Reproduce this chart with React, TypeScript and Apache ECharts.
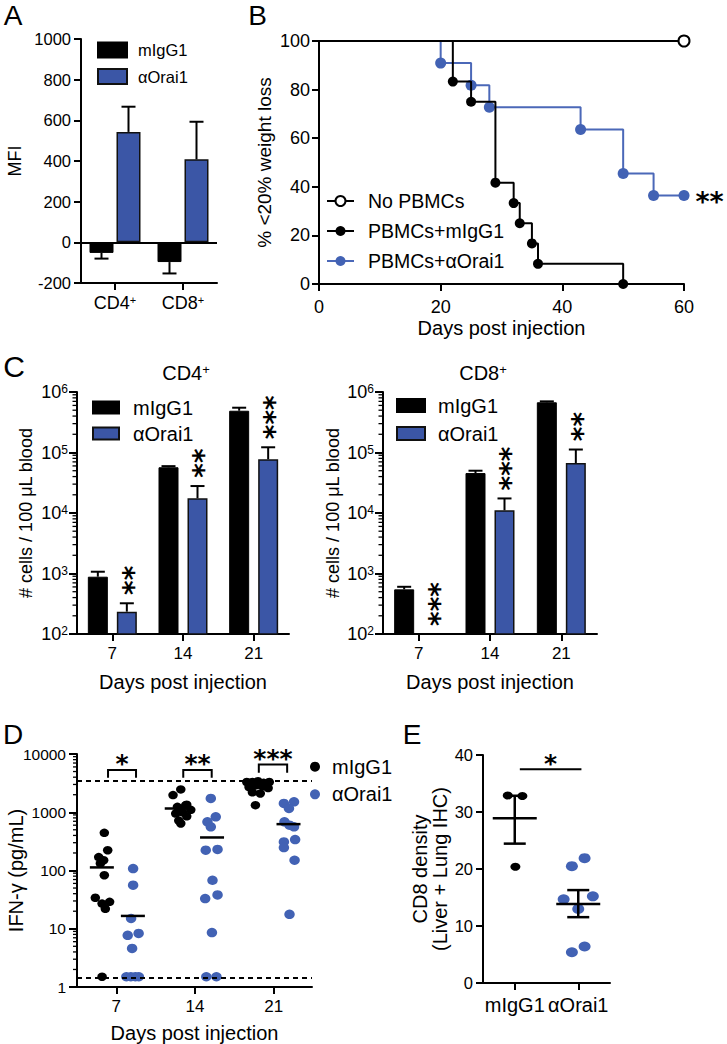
import React, { useEffect, useRef } from 'react';
import * as echarts from 'echarts';

const BLACK = '#000000';
const BLUE = '#3b56a6';
const BLUE_DOT = '#4262b4';
const BLUE_LINE = '#4b68b8';
const FONT = '"Liberation Sans", Arial, Helvetica, sans-serif';
const LETTER_FONT = '"Liberation Sans", Arial, sans-serif';
const STAR_FONT = '"DejaVu Sans", sans-serif';

// ---------- Panel A ----------
const aCategories = ['CD4', 'CD8'];
const aMIgG1 = [-52, -97];
const aMIgG1Err = [-80, -153];
const aOrai1 = [543, 408];
const aOrai1Err = [667, 593];

// ---------- Panel B (Kaplan-Meier, [day, %]) ----------
const bNoPBMCs = [[0, 100], [60, 100]];
const bMIgG1 = [[0, 100], [22, 83.3], [25, 75], [29, 41.7], [32, 33.3], [33, 25], [35, 16.7], [36, 8.3], [50, 0]];
const bOrai1 = [[0, 100], [20, 90.9], [25, 81.8], [28, 72.7], [43, 63.6], [50, 45.5], [55, 36.4], [60, 36.4]];

// ---------- Panel C ----------
const cDays = ['7', '14', '21'];
const cCD4MIgG1 = [885, 57000, 490000];
const cCD4MIgG1Err = [1070, 59500, 550000];
const cCD4Orai1 = [234, 17500, 77300];
const cCD4Orai1Err = [322, 27900, 122000];
const cCD4StarAnchor = [322, 27900, 122000];
const cCD4StarCount = [2, 2, 3];
const cCD8MIgG1 = [547, 45700, 676000];
const cCD8MIgG1Err = [603, 50000, 700000];
const cCD8Orai1 = [null, 11100, 67100];
const cCD8Orai1Err = [null, 17400, 112000];
const cCD8StarAnchor = [100, 17400, 112000];
const cCD8StarCount = [3, 3, 2];

// ---------- Panel D ([day position, pg/mL]) ----------
const dTickDays = [7, 14, 21];
const dMIgG1 = [
  [5.93, 443], [6.23, 223], [5.43, 170], [5.87, 150], [5.58, 132], [5.93, 83], [5.13, 34], [5.73, 27], [6.4, 29], [6.02, 22], [5.73, 1.5],
  [12.73, 2465], [12.04, 1970], [13.26, 1350], [13.17, 1325], [12.43, 1240], [13.62, 1100], [12.88, 1000], [12.28, 950], [13.26, 850], [12.55, 720], [12.73, 642],
  [18.6, 3300], [19.1, 3300], [19.6, 3400], [20.1, 3200], [20.6, 3300], [18.8, 2700], [19.4, 2900], [20.0, 2800], [20.5, 2600], [19.1, 2200], [19.8, 2100], [19.37, 1325],
];
const dOrai1 = [
  [8.49, 108], [8.49, 56], [8.31, 15], [8.01, 7.7], [8.98, 8.3], [8.4, 4.6], [7.89, 1.5], [8.29, 1.5], [8.69, 1.5], [9.0, 1.5],
  [15.4, 1725], [15.84, 834], [15.1, 684], [15.4, 561], [14.95, 223], [16.0, 230], [15.55, 68], [14.9, 33], [16.0, 38], [15.5, 8.6], [15.0, 1.5], [15.9, 1.5],
  [21.9, 1416], [22.8, 1510], [22.35, 1160], [21.95, 684], [22.4, 600], [22.8, 561], [21.9, 310], [22.9, 340], [21.9, 248], [22.85, 150], [22.4, 17.7],
];
const dMIgG1MeanX = [5.71, 12.37, 19.55];
const dMIgG1Mean = [113, 1160, 2670];
const dOrai1MeanX = [8.47, 15.51, 22.31];
const dOrai1Mean = [16.6, 369, 625];
const dLimits = [3420, 1.45];
const dBracketX1 = [6.26, 12.95, 19.67];
const dBracketX2 = [8.75, 15.48, 22.19];
const dBracketTop = [5290, 5290, 6620];
const dBracketLeg = [3900, 3900, 4750];
const dBracketStars = [1, 2, 3];

// ---------- Panel E ([group position, density]) ----------
const eCategories = ['mIgG1', 'αOrai1'];
const eMIgG1 = [[-0.11, 32.9], [0.12, 32.8], [0.01, 20.4]];
const eOrai1 = [[0.9, 20.5], [1.1, 21.9], [0.77, 14.7], [1.23, 15.2], [1.0, 13.0], [0.9, 5.4], [1.1, 6.4]];
const eMean = [28.9, 13.85];
const eSemLow = [24.45, 11.55];
const eSemHigh = [32.85, 16.3];
const eSigX1 = [0.08];
const eSigX2 = [1.05];
const eSigY = [37.5];
const eSigStars = [1];

function logMinorTicks(minExp: number, maxExp: number) {
  const out: number[] = [];
  for (let e = minExp; e < maxExp; e++) {
    for (let m = 2; m <= 9; m++) out.push(m * Math.pow(10, e));
  }
  return out;
}

const axisLine = { show: true, onZero: false, lineStyle: { color: BLACK, width: 2 } };
const tick = (len: number, extra: any = {}) => ({ show: true, length: len, inside: false, lineStyle: { color: BLACK, width: 2 }, ...extra });
const lab = (size: number, margin: number, extra: any = {}) => ({ show: true, color: BLACK, fontFamily: FONT, fontSize: size, margin, ...extra });
const nameStyle = (size: number, extra: any = {}) => ({ color: BLACK, fontFamily: FONT, fontSize: size, ...extra });
const noSplit = { show: false };

function textEl(x: number, y: number, text: string, size: number, family: string, weight: any = 'normal', rich: any = undefined) {
  const style: any = {
    text, x: 0, y: 0, fill: BLACK, fontSize: size, fontFamily: family, fontWeight: weight,
    align: 'center', verticalAlign: 'middle', textAlign: 'center', textVerticalAlign: 'middle',
  };
  if (rich) style.rich = rich;
  return { type: 'text', x, y, style, z: 100 };
}

function errRender(off: number, cap: number) {
  return (params: any, api: any) => {
    const c = api.value(0);
    const v = api.value(1);
    const e = api.value(2);
    const g = api.value(3);
    const p1 = api.coord([c, v]);
    const p2 = api.coord([c, e]);
    const x = p1[0] + (g === 0 ? -off : off);
    const st = { stroke: BLACK, lineWidth: 2 };
    return {
      type: 'group',
      children: [
        { type: 'line', shape: { x1: x, y1: p1[1], x2: x, y2: p2[1] }, style: st },
        { type: 'line', shape: { x1: x - cap, y1: p2[1], x2: x + cap, y2: p2[1] }, style: st },
      ],
    };
  };
}

// vertical column of asterisks: one rotated text
function stackedStarsRender(off: number) {
  const size = 28;
  const pitch = size * 0.5;
  return (params: any, api: any) => {
    const c = api.value(0);
    const a = api.value(1);
    const n = api.value(2);
    const p = api.coord([c, a]);
    const x = p[0] + off + size * 0.23;
    const cy = p[1] - 9 - (n * pitch) / 2;
    return {
      type: 'text', x, y: cy, rotation: Math.PI / 2,
      style: { text: '*'.repeat(n), fill: BLACK, fontSize: size, fontFamily: STAR_FONT, fontWeight: 'bold', align: 'center', verticalAlign: 'middle', textAlign: 'center', textVerticalAlign: 'middle' },
    };
  };
}

function minorTickRender(len: number) {
  return (params: any, api: any) => {
    const p = api.coord([api.value(0), api.value(1)]);
    const x0 = params.coordSys.x;
    return { type: 'line', shape: { x1: x0 - len, y1: p[1], x2: x0, y2: p[1] }, style: { stroke: BLACK, lineWidth: 1.3 } };
  };
}

function bracketRender(starSize: number, starLift: number) {
  return (params: any, api: any) => {
    const x1 = api.value(0);
    const x2 = api.value(1);
    const yt = api.value(2);
    const yl = api.value(3);
    const n = api.value(4);
    const a = api.coord([x1, yl]);
    const b = api.coord([x1, yt]);
    const c = api.coord([x2, yt]);
    const d = api.coord([x2, yl]);
    return {
      type: 'group',
      children: [
        { type: 'polyline', shape: { points: [a, b, c, d] }, style: { stroke: BLACK, lineWidth: 2, fill: 'none' } },
        {
          type: 'text', x: (b[0] + c[0]) / 2, y: b[1] - starLift + starSize * 0.23,
          style: { text: '*'.repeat(n), fill: BLACK, fontSize: starSize, fontFamily: STAR_FONT, fontWeight: 'bold', align: 'center', verticalAlign: 'middle', textAlign: 'center', textVerticalAlign: 'middle' },
        },
      ],
    };
  };
}

function meanRender(half: number) {
  return (params: any, api: any) => {
    const p = api.coord([api.value(0), api.value(1)]);
    return { type: 'line', shape: { x1: p[0] - half, y1: p[1], x2: p[0] + half, y2: p[1] }, style: { stroke: BLACK, lineWidth: 2.5 } };
  };
}

function meanSemRender(half: number, cap: number) {
  return (params: any, api: any) => {
    const x = api.value(0);
    const pm = api.coord([x, api.value(1)]);
    const pl = api.coord([x, api.value(2)]);
    const ph = api.coord([x, api.value(3)]);
    const st = { stroke: BLACK, lineWidth: 2.5 };
    return {
      type: 'group',
      children: [
        { type: 'line', shape: { x1: pm[0] - half, y1: pm[1], x2: pm[0] + half, y2: pm[1] }, style: st },
        { type: 'line', shape: { x1: pl[0], y1: pl[1], x2: ph[0], y2: ph[1] }, style: st },
        { type: 'line', shape: { x1: pl[0] - cap, y1: pl[1], x2: pl[0] + cap, y2: pl[1] }, style: st },
        { type: 'line', shape: { x1: ph[0] - cap, y1: ph[1], x2: ph[0] + cap, y2: ph[1] }, style: st },
      ],
    };
  };
}

const supRich = (size: number) => ({ s: { fontSize: size, fontFamily: FONT, color: BLACK, verticalAlign: 'top' } });

function logAxis(grid: number, min: number, max: number, name: string, nameGap: number, nameSize: number, labelSize: number, margin: number, pow: boolean) {
  return {
    type: 'log', logBase: 10, gridIndex: grid, min, max,
    axisLine, axisTick: tick(8), splitLine: noSplit, minorTick: { show: false },
    axisLabel: lab(labelSize, margin, pow
      ? { formatter: (v: number) => '10{s|' + Math.round(Math.log10(v)) + '}', rich: supRich(12) }
      : { formatter: (v: number) => String(Math.round(v)) }),
    name, nameLocation: 'middle', nameGap, nameRotate: 90, nameMoveOverlap: false, nameTextStyle: nameStyle(nameSize),
  };
}

function buildOption(): any {
  const cMinor = logMinorTicks(2, 6);
  const dMinor = logMinorTicks(0, 4);

  const grids = [
    { left: 81, top: 39, width: 136, height: 244 },
    { left: 319, top: 41, width: 365, height: 243 },
    { left: 77, top: 392, width: 212, height: 242 },
    { left: 383, top: 392, width: 214, height: 242 },
    { left: 77, top: 754, width: 235, height: 233 },
    { left: 483, top: 755, width: 127, height: 228 },
  ].map((g) => ({ ...g, containLabel: false, outerBoundsMode: 'none' }));

  const cX = (grid: number) => ({
    type: 'category', gridIndex: grid, data: cDays,
    axisLine, axisTick: tick(7, { alignWithLabel: true }), splitLine: noSplit,
    axisLabel: lab(17, 11, { interval: 0 }),
    name: 'Days post injection', nameLocation: 'middle', nameGap: 38, nameMoveOverlap: false, nameTextStyle: nameStyle(20),
  });

  const xAxis = [
    {
      type: 'category', gridIndex: 0, data: aCategories,
      axisLine, axisTick: tick(7, { alignWithLabel: true, interval: 0 }), splitLine: noSplit,
      axisLabel: lab(18, 11, { interval: 0, hideOverlap: false, formatter: (v: string) => v + '{s|+}', rich: supRich(11) }),
    },
    {
      type: 'value', gridIndex: 1, min: 0, max: 60, interval: 20,
      axisLine, axisTick: tick(7), splitLine: noSplit, axisLabel: lab(18, 14),
      name: 'Days post injection', nameLocation: 'middle', nameGap: 34, nameMoveOverlap: false, nameTextStyle: nameStyle(20),
    },
    cX(2),
    cX(3),
    {
      type: 'value', gridIndex: 4, min: 3.5, max: 24.4,
      axisLine, axisTick: tick(7, { customValues: dTickDays }), splitLine: noSplit,
      axisLabel: lab(17, 11, { customValues: dTickDays }),
      name: 'Days post injection', nameLocation: 'middle', nameGap: 36, nameMoveOverlap: false, nameTextStyle: nameStyle(20),
    },
    {
      type: 'value', gridIndex: 5, min: -0.5, max: 1.5,
      axisLine, axisTick: tick(7, { customValues: [0, 1] }), splitLine: noSplit,
      axisLabel: lab(20, 12, { customValues: [0, 1], formatter: (v: number) => eCategories[Math.round(v)] }),
    },
  ];

  const yAxis = [
    {
      type: 'value', gridIndex: 0, min: -200, max: 1000, interval: 200,
      axisLine, axisTick: tick(7), splitLine: noSplit, axisLabel: lab(16.5, 10, { formatter: (v: number) => String(v) }),
      name: 'MFI', nameLocation: 'middle', nameGap: 57, nameRotate: 90, nameMoveOverlap: false, nameTextStyle: nameStyle(18),
    },
    {
      type: 'value', gridIndex: 1, min: 0, max: 100, interval: 20,
      axisLine, axisTick: tick(7), splitLine: noSplit, axisLabel: lab(18, 9),
      name: '% <20% weight loss', nameLocation: 'middle', nameGap: 45, nameRotate: 90, nameMoveOverlap: false, nameTextStyle: nameStyle(19),
    },
    logAxis(2, 100, 1000000, '# cells / 100 μL blood', 42, 18, 18, 9, true),
    logAxis(3, 100, 1000000, '# cells / 100 μL blood', 41, 18, 18, 9, true),
    logAxis(4, 1, 10000, 'IFN-γ (pg/mL)', 51, 20, 15.5, 11, false),
    {
      type: 'value', gridIndex: 5, min: 0, max: 40, interval: 10,
      axisLine, axisTick: tick(7), splitLine: noSplit, axisLabel: lab(16.5, 10),
      name: 'CD8 density\n(Liver + Lung IHC)', nameLocation: 'middle', nameGap: 33, nameRotate: 90, nameMoveOverlap: false,
      nameTextStyle: nameStyle(20, { lineHeight: 20 }),
    },
  ];

  const barBlack = { color: BLACK, borderColor: BLACK, borderWidth: 1 };
  const barBlue = { color: BLUE, borderColor: '#111111', borderWidth: 1.5 };

  const series: any[] = [];

  // ---- A ----
  series.push({
    name: 'mIgG1', type: 'bar', xAxisIndex: 0, yAxisIndex: 0, data: aMIgG1, barWidth: 24, barGap: '12.5%',
    itemStyle: barBlack,
    markLine: { silent: true, symbol: ['none', 'none'], label: { show: false }, lineStyle: { color: BLACK, width: 2, type: 'solid' }, data: [{ yAxis: 0 }] },
  });
  series.push({ name: 'αOrai1', type: 'bar', xAxisIndex: 0, yAxisIndex: 0, data: aOrai1, barWidth: 24, barGap: '12.5%', itemStyle: barBlue });
  series.push({
    name: 'A-err', type: 'custom', xAxisIndex: 0, yAxisIndex: 0, z: 5,
    renderItem: errRender(13.5, 7),
    data: [
      ...aMIgG1.map((v, i) => [i, v, aMIgG1Err[i], 0]),
      ...aOrai1.map((v, i) => [i, v, aOrai1Err[i], 1]),
    ],
  });

  // ---- B ----
  series.push({
    name: 'No PBMCs', type: 'line', xAxisIndex: 1, yAxisIndex: 1, z: 4,
    data: bNoPBMCs.map((p, i) => (i === 0 ? { value: p, symbol: 'none' } : { value: p })),
    symbol: 'circle', symbolSize: 11, showAllSymbol: true,
    itemStyle: { color: '#ffffff', borderColor: BLACK, borderWidth: 2 },
    lineStyle: { color: BLACK, width: 2 },
  });
  series.push({
    name: 'PBMCs+mIgG1', type: 'line', step: 'end', xAxisIndex: 1, yAxisIndex: 1, z: 3,
    data: bMIgG1.map((p, i) => (i === 0 ? { value: p, symbol: 'none' } : { value: p })),
    symbol: 'circle', symbolSize: 10, showAllSymbol: true,
    itemStyle: { color: BLACK },
    lineStyle: { color: BLACK, width: 2 },
  });
  series.push({
    name: 'PBMCs+αOrai1', type: 'line', step: 'end', xAxisIndex: 1, yAxisIndex: 1, z: 2,
    data: bOrai1.map((p, i) => {
      if (i === 0) return { value: p, symbol: 'none' };
      if (i === bOrai1.length - 1) {
        return {
          value: p,
          label: { show: true, position: 'right', distance: 6, formatter: '**', color: BLACK, fontSize: 27, fontFamily: STAR_FONT, fontWeight: 'bold', offset: [0, 6] },
        };
      }
      return { value: p };
    }),
    symbol: 'circle', symbolSize: 11, showAllSymbol: true,
    itemStyle: { color: BLUE_DOT },
    lineStyle: { color: BLUE_LINE, width: 2 },
  });

  // ---- C ----
  const cPanel = (xi: number, mig: any[], migErr: any[], ora: any[], oraErr: any[], starA: number[], starN: number[]) => {
    series.push({ name: 'mIgG1', type: 'bar', xAxisIndex: xi, yAxisIndex: xi, data: mig, barWidth: 20, barGap: '45%', itemStyle: barBlack, clip: true });
    series.push({ name: 'αOrai1', type: 'bar', xAxisIndex: xi, yAxisIndex: xi, data: ora.map((v) => (v == null ? '-' : v)), barWidth: 20, barGap: '45%', itemStyle: barBlue, clip: true });
    const errData: any[] = [];
    mig.forEach((v, i) => { if (v != null) errData.push([i, v, migErr[i], 0]); });
    ora.forEach((v, i) => { if (v != null) errData.push([i, v, oraErr[i], 1]); });
    series.push({ name: 'C-err-' + xi, type: 'custom', xAxisIndex: xi, yAxisIndex: xi, z: 5, renderItem: errRender(14.5, 7), data: errData });
    series.push({
      name: 'C-stars-' + xi, type: 'custom', xAxisIndex: xi, yAxisIndex: xi, z: 6,
      renderItem: stackedStarsRender(14.5), data: starA.map((a, i) => [i, a, starN[i]]),
    });
    series.push({
      name: 'C-minor-' + xi, type: 'custom', xAxisIndex: xi, yAxisIndex: xi, z: 6,
      renderItem: minorTickRender(4.5), data: cMinor.map((v) => [0, v]),
    });
  };
  cPanel(2, cCD4MIgG1, cCD4MIgG1Err, cCD4Orai1, cCD4Orai1Err, cCD4StarAnchor, cCD4StarCount);
  cPanel(3, cCD8MIgG1, cCD8MIgG1Err, cCD8Orai1, cCD8Orai1Err, cCD8StarAnchor, cCD8StarCount);

  // ---- D ----
  series.push({
    name: 'mIgG1', type: 'scatter', xAxisIndex: 4, yAxisIndex: 4, data: dMIgG1, symbol: 'circle', symbolSize: [9.5, 8.5],
    itemStyle: { color: BLACK, opacity: 1 }, z: 3,
    markLine: {
      silent: true, symbol: ['none', 'none'], label: { show: false },
      lineStyle: { color: BLACK, width: 2, type: [5, 4] },
      data: dLimits.map((v) => ({ yAxis: v })),
    },
  });
  series.push({
    name: 'αOrai1', type: 'scatter', xAxisIndex: 4, yAxisIndex: 4, data: dOrai1, symbol: 'circle', symbolSize: [10.5, 9.5],
    itemStyle: { color: BLUE_DOT, opacity: 1 }, z: 3,
  });
  series.push({
    name: 'D-mean', type: 'custom', xAxisIndex: 4, yAxisIndex: 4, z: 5, renderItem: meanRender(12),
    data: [...dMIgG1MeanX.map((x, i) => [x, dMIgG1Mean[i]]), ...dOrai1MeanX.map((x, i) => [x, dOrai1Mean[i]])],
  });
  series.push({
    name: 'D-brackets', type: 'custom', xAxisIndex: 4, yAxisIndex: 4, z: 5, renderItem: bracketRender(25, 12),
    encode: { x: 0, y: 2 },
    data: dBracketX1.map((x, i) => [x, dBracketX2[i], dBracketTop[i], dBracketLeg[i], dBracketStars[i]]),
  });
  series.push({
    name: 'D-minor', type: 'custom', xAxisIndex: 4, yAxisIndex: 4, z: 6,
    renderItem: minorTickRender(4), data: dMinor.map((v) => [7, v]),
  });

  // ---- E ----
  series.push({ name: 'mIgG1', type: 'scatter', xAxisIndex: 5, yAxisIndex: 5, data: eMIgG1, symbol: 'circle', symbolSize: [10, 8], itemStyle: { color: BLACK, opacity: 1 }, z: 3 });
  series.push({ name: 'αOrai1', type: 'scatter', xAxisIndex: 5, yAxisIndex: 5, data: eOrai1, symbol: 'circle', symbolSize: [12, 10], itemStyle: { color: BLUE_DOT, opacity: 1 }, z: 3 });
  series.push({
    name: 'E-mean', type: 'custom', xAxisIndex: 5, yAxisIndex: 5, z: 5, renderItem: meanSemRender(22, 11),
    data: eMean.map((m, i) => [i, m, eSemLow[i], eSemHigh[i]]),
  });
  series.push({
    name: 'E-sig', type: 'custom', xAxisIndex: 5, yAxisIndex: 5, z: 5, renderItem: bracketRender(25, 12),
    encode: { x: 0, y: 2 },
    data: eSigX1.map((x, i) => [x, eSigX2[i], eSigY[i], eSigY[i], eSigStars[i]]),
  });

  const legText = (size: number, padLeft: number) => ({ color: BLACK, fontFamily: FONT, fontSize: size, padding: [0, 0, 0, padLeft] });

  const legend = [
    {
      left: 97, top: 41.5, orient: 'vertical', padding: 0, itemWidth: 29, itemHeight: 15, itemGap: 9.5, icon: 'rect',
      data: ['mIgG1', 'αOrai1'], textStyle: legText(16.5, 6), selectedMode: false,
    },
    {
      left: 326, top: 191, orient: 'vertical', padding: 0, itemWidth: 27, itemHeight: 12.5, itemGap: 10,
      data: ['No PBMCs', 'PBMCs+mIgG1', 'PBMCs+αOrai1'], textStyle: legText(19.5, 9), selectedMode: false,
    },
    {
      left: 92, top: 397.5, orient: 'vertical', padding: 0, itemWidth: 26, itemHeight: 12, itemGap: 6, icon: 'rect',
      data: ['mIgG1', 'αOrai1'], textStyle: legText(20, 9), selectedMode: false,
    },
    {
      left: 396, top: 395.5, orient: 'vertical', padding: 0, itemWidth: 28, itemHeight: 13, itemGap: 8, icon: 'rect',
      data: ['mIgG1', 'αOrai1'], textStyle: legText(20, 8), selectedMode: false,
    },
    {
      left: 310, top: 756.7, orient: 'vertical', padding: 0, itemWidth: 10, itemHeight: 10, itemGap: 7.6, icon: 'circle',
      data: [
        { name: 'mIgG1', itemStyle: { color: BLACK, borderWidth: 0 } },
        { name: 'αOrai1', itemStyle: { color: BLUE_DOT, borderWidth: 0 } },
      ],
      textStyle: legText(20, 7), selectedMode: false,
    },
  ];

  const graphic = [
    textEl(13, 15, 'A', 28, LETTER_FONT),
    textEl(257.5, 15, 'B', 28, LETTER_FONT),
    textEl(14, 366, 'C', 30, LETTER_FONT),
    textEl(13, 734, 'D', 28, LETTER_FONT),
    textEl(412, 734, 'E', 28, LETTER_FONT),
    textEl(186, 373, 'CD4{s|+}', 20, FONT, 'normal', supRich(13)),
    textEl(483, 373, 'CD8{s|+}', 20, FONT, 'normal', supRich(13)),
  ];

  return {
    animation: false,
    backgroundColor: '#ffffff',
    textStyle: { fontFamily: FONT },
    grid: grids,
    xAxis,
    yAxis,
    legend,
    graphic,
    series,
  };
}

export default function App() {
  const ref = useRef<HTMLDivElement>(null);
  useEffect(() => {
    if (!ref.current) return;
    const chart = echarts.init(ref.current, null, { renderer: 'svg' });
    chart.setOption(buildOption());
    return () => chart.dispose();
  }, []);
  return (
    <div
      ref={ref}
      style={{ position: 'absolute', left: 0, top: 0, width: 727, height: 1044, background: '#ffffff' }}
    />
  );
}
